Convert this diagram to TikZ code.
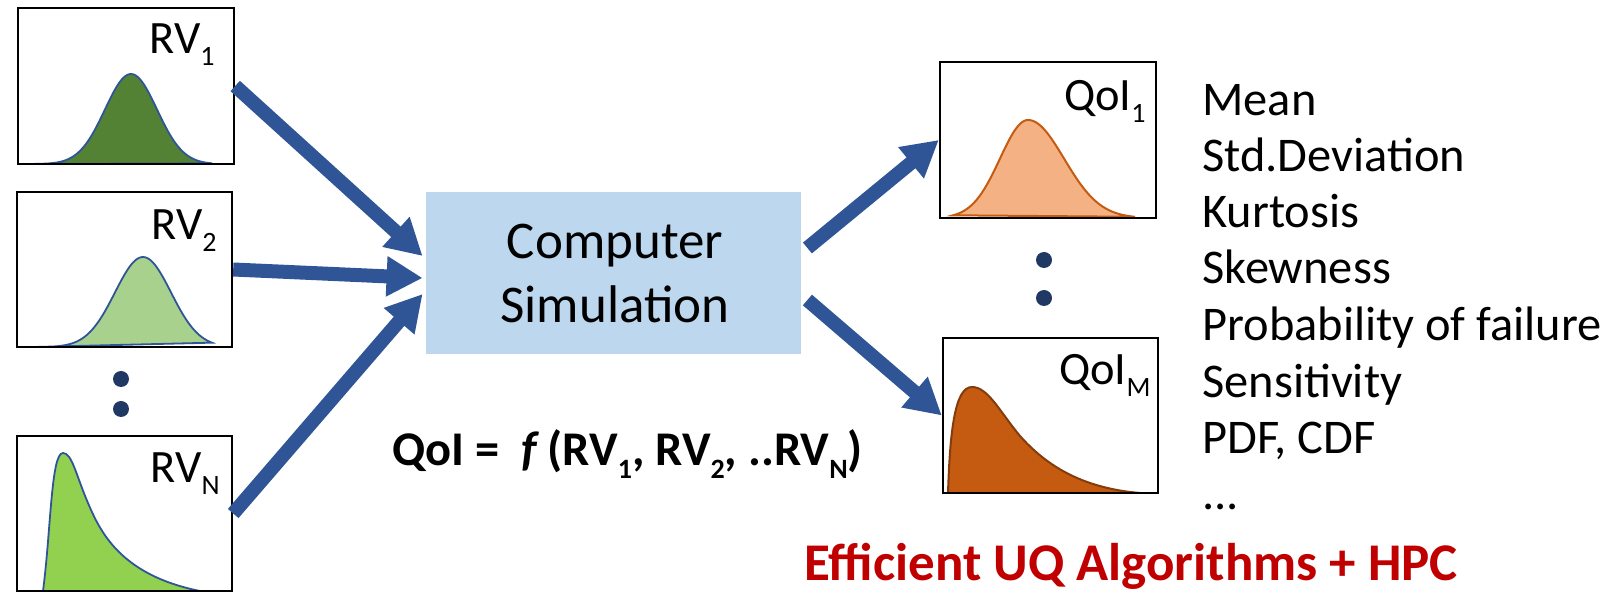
\documentclass[tikz,border=0pt]{standalone}
\usepackage{fontspec}
\setmainfont{Carlito}
\usetikzlibrary{arrows.meta}
\definecolor{arrblue}{HTML}{2F5597}
\definecolor{simfill}{HTML}{BDD7EE}
\definecolor{dkgreen}{HTML}{548235}
\definecolor{ltgreen}{HTML}{A9D18E}
\definecolor{mdgreen}{HTML}{92D050}
\definecolor{ltorange}{HTML}{F4B183}
\definecolor{dkorange}{HTML}{C55A11}
\definecolor{brorange}{HTML}{843C0C}
\definecolor{dotblue}{HTML}{203864}
\definecolor{uqred}{HTML}{C00000}
\newcommand{\ssub}[1]{\raisebox{-0.25em}{\fontsize{14}{14}\selectfont #1}}
\tikzset{
  pbox/.style={draw=black, line width=1.2pt, inner sep=0pt, minimum width=108pt, minimum height=78pt},
  lbl/.style={anchor=base east, inner sep=0pt, font=\fontsize{23.2}{26}\selectfont},
  bigarrow/.style={draw=arrblue, line width=7pt, -{Triangle[length=18pt,width=19pt]}},
  gline/.style={draw=arrblue, line width=0.9pt},
  vdot/.style={circle, fill=dotblue, inner sep=0pt, minimum size=8pt},
  listitem/.style={anchor=base west, inner sep=0pt, font=\fontsize{24.2}{28}\selectfont}
}
\begin{document}
\begin{tikzpicture}[x=0.5pt,y=-0.5pt]
\useasboundingbox (0,0) rectangle (1606,592);
% distribution curves
\path[fill=dkgreen, gline] plot[domain=33:212, samples=90] (\x, {164 - 90*exp(-((\x-131)/26)^2/2)}) -- cycle;
\path[fill=ltgreen, gline] plot[domain=37:212, samples=90] (\x, {347 - 90*exp(-((\x-143)/28)^2/2)}) -- cycle;
\path[fill=mdgreen, gline] (43,591) .. controls (51,530) and (51,453) .. (63,453)
   .. controls (72,453) and (76,475) .. (88,503)
   .. controls (100,531) and (120,575) .. (200,591) -- cycle;
\path[fill=ltorange, draw=dkorange, line width=1pt] plot[domain=953:1135, samples=90] (\x, {218 - 98*exp(-((\x-1028)/(\x<1028?28:36))^2/2)}) -- cycle;
\path[fill=dkorange, draw=brorange, line width=1pt] (948,493) .. controls (950,430) and (955,387) .. (972,387)
   .. controls (988,387) and (1000,412) .. (1020,436)
   .. controls (1045,464) and (1080,488) .. (1140,493) -- cycle;
% boxes
\node[pbox] (rv1) at (126,86) {};
\node[pbox, minimum width=107.5pt, minimum height=77.5pt] (rv2) at (124.5,269.5) {};
\node[pbox, minimum width=107.5pt, minimum height=77.5pt] (rvN) at (124.5,513.5) {};
\node[pbox] (q1) at (1048,140) {};
\node[pbox, minimum width=107.5pt, minimum height=77.5pt] (qM) at (1050.5,415.5) {};
\node[fill=simfill, minimum width=187.5pt, minimum height=81pt, inner sep=0pt] (sim) at (613.5,273) {};
\node[anchor=base, inner sep=0pt, font=\fontsize{26.5}{32}\selectfont] (simA) at (615,259) {Computer};
\node[anchor=base, inner sep=0pt, font=\fontsize{26.5}{32}\selectfont] (simB) at (615,323) {Simulation};
% labels
\node[lbl] (l1) at (215,54) {RV\ssub{1}};
\node[lbl] (l2) at (217,240) {RV\ssub{2}};
\node[lbl] (lN) at (220,483) {RV\ssub{N}};
\node[lbl] (lq1) at (1146,111) {QoI\ssub{1}};
\node[lbl] (lqM) at (1151,385) {QoI\ssub{M}};
% dots
\node[vdot] (d1) at (121,379) {};
\node[vdot] (d2) at (121,409) {};
\node[vdot] (d3) at (1044,260) {};
\node[vdot] (d4) at (1044,298) {};
% arrows
\draw[bigarrow] (rv1.east) -- ([xshift=-1.5pt,yshift=8.5pt]sim.west);
\draw[bigarrow] (rv2.east) -- ([xshift=-1.5pt,yshift=-2.5pt]sim.west);
\draw[bigarrow] (rvN.east) -- ([xshift=-1.5pt,yshift=-10.5pt]sim.west);
\draw[bigarrow] ([xshift=3pt,yshift=12.5pt]sim.east) -- (q1.west);
\draw[bigarrow] ([xshift=3pt,yshift=-13.5pt]sim.east) -- (qM.west);
% formula
\node[anchor=base west, inner sep=0pt, font=\bfseries\fontsize{24.2}{28}\selectfont] (formula) at (392,466) {QoI =\ \ \textit{f}\,(RV\ssub{1}, RV\ssub{2}, ..RV\ssub{N})};
% list
\foreach \t/\yy [count=\i] in {Mean/116, Std.Deviation/172, Kurtosis/228, Skewness/284, Probability of failure/341, Sensitivity/398, {PDF, CDF}/454}
  \node[listitem] (item\i) at (1202,\yy) {\t};
\node[listitem] (item8) at (1202,510) {{.}{.}{.}};
\node[anchor=base west, inner sep=0pt, text=uqred, font=\bfseries\fontsize{26.5}{30}\selectfont] (uq) at (804,581) {Efficient UQ Algorithms + HPC};
\end{tikzpicture}
\end{document}
